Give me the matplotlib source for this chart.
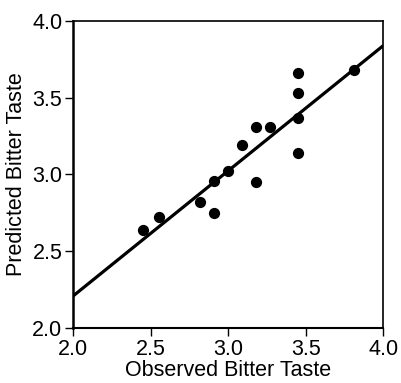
import matplotlib
matplotlib.use('Agg')
import matplotlib.pyplot as plt

# observed vs predicted bitter taste
observed = [2.45, 2.55, 2.82, 2.91, 2.91, 3.00, 3.09, 3.18, 3.18, 3.27, 3.45, 3.45, 3.45, 3.45, 3.81]
predicted = [2.64, 2.72, 2.82, 2.75, 2.96, 3.02, 3.19, 2.95, 3.31, 3.31, 3.14, 3.37, 3.53, 3.66, 3.68]

# fitted line end points
line_x = [2.0, 4.0]
line_y = [2.21, 3.84]

ticks = [2.0, 2.5, 3.0, 3.5, 4.0]
tick_labels = ['2.0', '2.5', '3.0', '3.5', '4.0']

plt.rcParams['font.family'] = ['Liberation Sans', 'DejaVu Sans']

fig = plt.figure(figsize=(4.01, 3.83), dpi=100)
ax = fig.add_axes([0.183, 0.1436, 0.773, 0.8016])

ax.plot(line_x, line_y, color='black', linewidth=2.3, solid_capstyle='butt')
ax.scatter(observed, predicted, s=50, color='black', zorder=3)

ax.set_xlim(2.0, 4.0)
ax.set_ylim(2.0, 4.0)
ax.set_xticks(ticks)
ax.set_xticklabels(tick_labels)
ax.set_yticks(ticks)
ax.set_yticklabels(tick_labels)
ax.tick_params(direction='out', length=6, width=1, labelsize=15.5, pad=2)

for s in ax.spines.values():
    s.set_linewidth(1.2)
ax.spines['left'].set_linewidth(1.8)
ax.spines['bottom'].set_linewidth(1.5)

ax.set_xlabel('Observed Bitter Taste', fontsize=15.5, labelpad=0)
ax.set_ylabel('Predicted Bitter Taste', fontsize=15.5, labelpad=4)

fig.savefig('out.png', dpi=100)
